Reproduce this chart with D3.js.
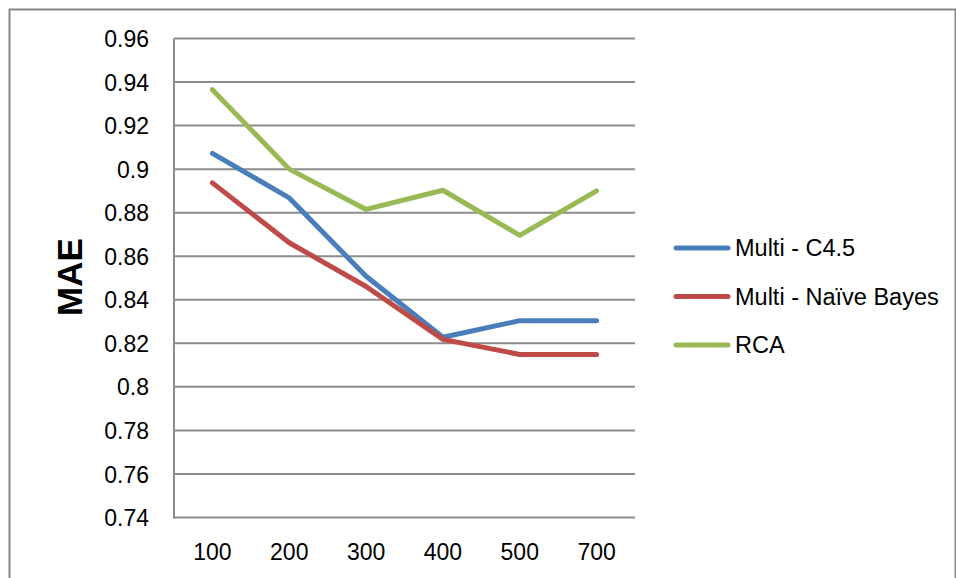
<!DOCTYPE html>
<html>
<head>
<meta charset="utf-8">
<script src="https://cdn.jsdelivr.net/npm/d3@7"></script>
<style>
  html, body { margin: 0; padding: 0; background: #fff; }
  svg { display: block; }
  text { font-family: "Liberation Sans", Arial, sans-serif; fill: #000; }
</style>
</head>
<body>
<svg id="chart" width="956" height="578"></svg>
<script>
const categories = ["100", "200", "300", "400", "500", "700"];
const seriesNames = ["Multi - C4.5", "Multi - Naïve Bayes", "RCA"];
const c45Values = [0.9072, 0.8868, 0.8508, 0.8228, 0.8304, 0.8304];
const naiveBayesValues = [0.8937, 0.8662, 0.8461, 0.8218, 0.8149, 0.8149];
const rcaValues = [0.9365, 0.9000, 0.8815, 0.8903, 0.8696, 0.8900];
const yTicks = [0.74, 0.76, 0.78, 0.8, 0.82, 0.84, 0.86, 0.88, 0.9, 0.92, 0.94, 0.96];
const seriesColors = ["#4A7EBB", "#BE4B48", "#98B954"];
const yTitle = "MAE";

const series = [
  { name: seriesNames[0], values: c45Values, color: seriesColors[0] },
  { name: seriesNames[1], values: naiveBayesValues, color: seriesColors[1] },
  { name: seriesNames[2], values: rcaValues, color: seriesColors[2] }
];

const svg = d3.select("#chart");
const plot = { left: 174, right: 635, top: 38.5, bottom: 517.5 };

// outer border
svg.append("rect")
  .attr("x", 9.5).attr("y", 9.5)
  .attr("width", 946).attr("height", 580)
  .attr("fill", "none").attr("stroke", "#868686").attr("stroke-width", 2);

const x = d3.scaleBand().domain(categories).range([plot.left, plot.right]);
const y = d3.scaleLinear().domain([0.74, 0.96]).range([plot.bottom, plot.top]);

// gridlines
svg.append("g").selectAll("line").data(yTicks).join("line")
  .attr("x1", plot.left).attr("x2", plot.right)
  .attr("y1", d => y(d)).attr("y2", d => y(d))
  .attr("stroke", "#8c8c8c").attr("stroke-width", 2);

// y axis line
svg.append("line")
  .attr("x1", plot.left).attr("x2", plot.left)
  .attr("y1", plot.top).attr("y2", plot.bottom + 1)
  .attr("stroke", "#8c8c8c").attr("stroke-width", 2);

// y axis labels
const yAxis = d3.axisLeft(y).tickValues(yTicks).tickSize(0).tickPadding(0)
  .tickFormat(d => String(+d.toFixed(2)));
const gy = svg.append("g").attr("transform", `translate(${plot.left - 25},0)`).call(yAxis);
gy.select(".domain").remove();
gy.selectAll("text").attr("font-size", 23).attr("font-family", "Liberation Sans, Arial, sans-serif").attr("dy", "0.35em");

// x axis labels
const xAxis = d3.axisBottom(x).tickSize(0).tickPadding(0);
const gx = svg.append("g").attr("transform", `translate(0,${plot.bottom + 34})`).call(xAxis);
gx.select(".domain").remove();
gx.selectAll("text").attr("font-size", 23).attr("font-family", "Liberation Sans, Arial, sans-serif").attr("dy", "0.35em");

// y title
svg.append("text")
  .attr("transform", `translate(82,277) rotate(-90)`)
  .attr("text-anchor", "middle")
  .attr("font-size", 35).attr("font-weight", "bold")
  .text(yTitle);

// lines
const line = d3.line()
  .x((d, i) => x(categories[i]) + x.bandwidth() / 2)
  .y(d => y(d));

svg.append("g").selectAll("path").data(series).join("path")
  .attr("d", d => line(d.values))
  .attr("fill", "none")
  .attr("stroke", d => d.color)
  .attr("stroke-width", 5)
  .attr("stroke-linejoin", "round")
  .attr("stroke-linecap", "round");

// legend
const legendY = d3.scalePoint().domain(seriesNames).range([248, 345]);
const lg = svg.append("g").selectAll("g").data(series).join("g")
  .attr("transform", d => `translate(0,${legendY(d.name)})`);
lg.append("line")
  .attr("x1", 676).attr("x2", 728).attr("y1", 0).attr("y2", 0)
  .attr("stroke", d => d.color).attr("stroke-width", 5).attr("stroke-linecap", "round");
lg.append("text")
  .attr("x", 735).attr("y", 0).attr("dy", "0.35em")
  .attr("font-size", 23.5)
  .text(d => d.name);
</script>
</body>
</html>
